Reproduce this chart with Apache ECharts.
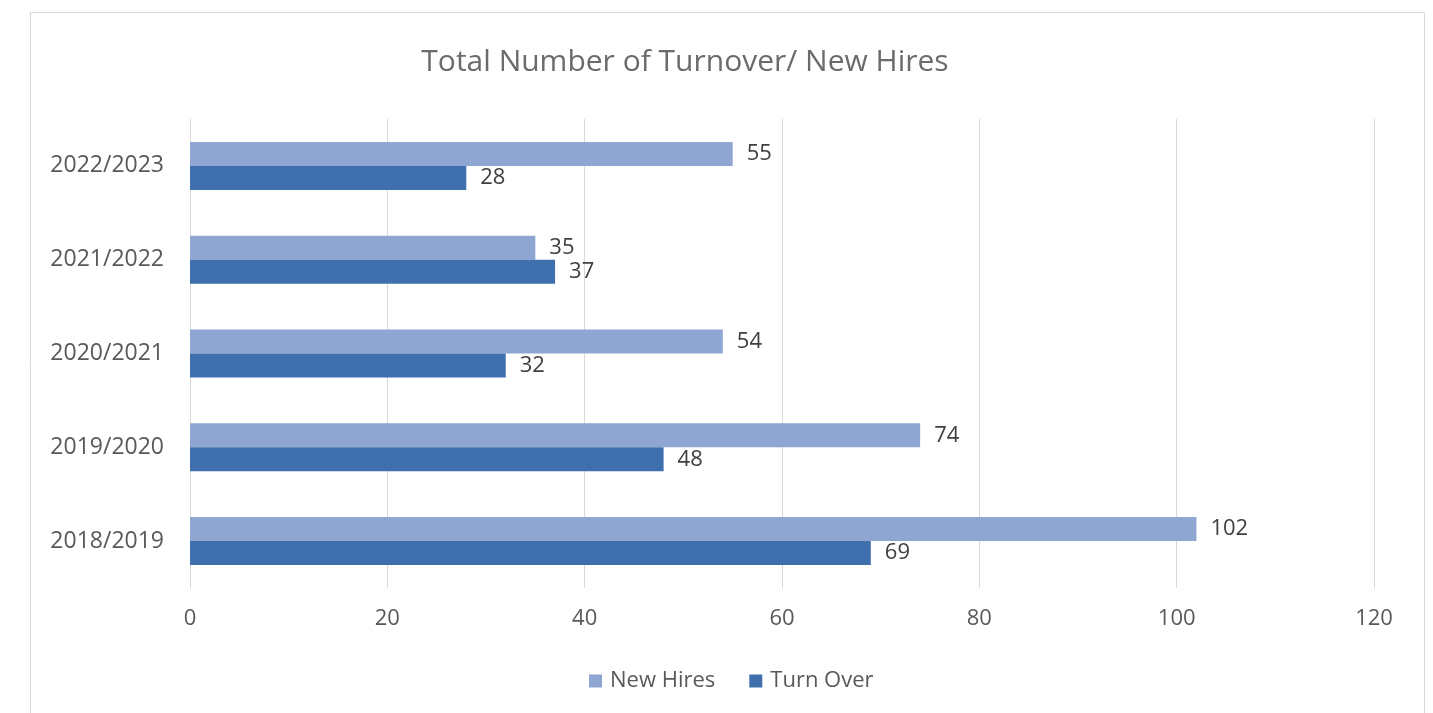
<!DOCTYPE html>
<html>
<head>
<meta charset="utf-8">
<script src="https://cdn.jsdelivr.net/npm/echarts@6/dist/echarts.min.js"></script>
<style>html,body{margin:0;padding:0;background:#fff;}#c{width:1433px;height:713px;}</style>
</head>
<body>
<div id="c"></div>
<script>
const categories = ['2018/2019', '2019/2020', '2020/2021', '2021/2022', '2022/2023'];
const newHires = [102, 74, 54, 35, 55];
const turnOver = [69, 48, 32, 37, 28];
const xTicks = [0, 20, 40, 60, 80, 100, 120];

const chart = echarts.init(document.getElementById('c'));
const labelStyle = { show: true, position: 'right', distance: 14, color: '#404040', fontSize: 22, fontFamily: 'Open Sans' };
chart.setOption({
  animation: false,
  textStyle: { fontFamily: 'Open Sans' },
  graphic: [{
    type: 'rect', shape: { x: 30.5, y: 12.5, width: 1394, height: 720 },
    style: { fill: 'none', stroke: '#d9d9d9', lineWidth: 1 }, silent: true
  }],
  title: {
    text: 'Total Number of Turnover/ New Hires',
    left: 680, top: 42, textAlign: 'center',
    textStyle: { color: '#6b6b6b', fontSize: 30, fontWeight: 'normal', fontFamily: 'Open Sans' }
  },
  legend: {
    data: ['New Hires', 'Turn Over'],
    left: 584, top: 665, itemWidth: 13, itemHeight: 13, itemGap: 34,
    icon: 'rect',
    textStyle: { color: '#595959', fontSize: 22, fontFamily: 'Open Sans', padding: [0, 0, 0, 3] }
  },
  grid: { left: 190, right: 59, top: 119, bottom: 125, containLabel: false },
  xAxis: {
    type: 'value', min: xTicks[0], max: xTicks[xTicks.length - 1], interval: 20,
    axisLine: { show: false }, axisTick: { show: false },
    axisLabel: { color: '#595959', fontSize: 22, margin: 20, fontFamily: 'Open Sans' },
    splitLine: { lineStyle: { color: '#d9d9d9', width: 1 } }
  },
  yAxis: {
    type: 'category', data: categories,
    axisLine: { show: false }, axisTick: { show: false },
    axisLabel: { color: '#595959', fontSize: 23, margin: 26, fontFamily: 'Open Sans' }
  },
  series: [
    { name: 'New Hires', type: 'bar', data: newHires, barWidth: 24, barGap: '0%',
      itemStyle: { color: '#8fa5d2' }, label: labelStyle },
    { name: 'Turn Over', type: 'bar', data: turnOver, barWidth: 24, barGap: '0%',
      itemStyle: { color: '#3f6fad' }, label: labelStyle }
  ]
});
</script>
</body>
</html>
